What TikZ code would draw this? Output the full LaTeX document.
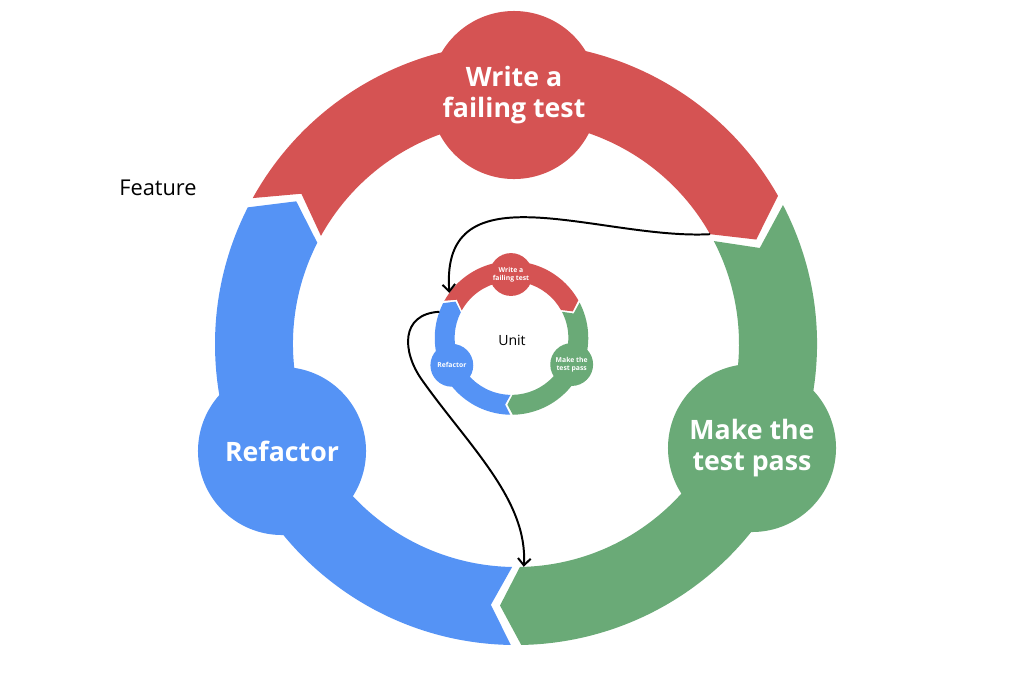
\documentclass[tikz,border=0pt]{standalone}
\usepackage{fontspec}
\setmainfont{Open Sans}
\usetikzlibrary{arrows.meta}
\definecolor{tddred}{RGB}{213,83,83}
\definecolor{tddgreen}{RGB}{106,170,119}
\definecolor{tddblue}{RGB}{85,147,245}
\tikzset{
	stage/.style = {circle, minimum size = 4.2cm, inner sep = 0pt, text = white, align = center,
		font = \fontsize{19}{21.5}\selectfont\bfseries},
	nested/.style = {line width = 1.4pt, -{Straight Barb[length = 5pt, width = 9pt]}},
	pics/tddcycle/.style = {code = {
		\fill[tddred] (151:301) arc[start angle = 151, end angle = 29.5, radius = 301] -- (23.5:262) -- (29.5:223) arc[start angle = 29.5, end angle = 151, radius = 223] -- (145:262) -- cycle;
		\fill[tddgreen] (27.5:301) arc[start angle = 27.5, end angle = -89, radius = 301] -- (-93.5:262) -- (-89:223) arc[start angle = -89, end angle = 27.5, radius = 223] -- (21.5:262) -- cycle;
		\fill[tddblue] (-91:301) arc[start angle = -91, end angle = -207, radius = 301] -- (-213:262) -- (-207:223) arc[start angle = -207, end angle = -91, radius = 223] -- (-95.5:262) -- cycle;
		%%%%%%%%%
		\node[stage, fill = tddred] (-write) at (-2, 249) {Write a\\failing test};
		\node[stage, fill = tddgreen] (-pass) at (236, -104) {Make the\\test pass};
		\node[stage, fill = tddblue] (-refactor) at (-234, -107) {Refactor};
		%%%%%%%%%
		\coordinate (-redend) at (29.5:223);
		\coordinate (-redstart) at (144:301);
		\coordinate (-greenend) at (-88:223);
		\coordinate (-blueend) at (160:301);
	}}
}
\begin{document}
\begin{tikzpicture}[x = 0.025cm, y = 0.025cm]
	\useasboundingbox (0, 0) rectangle (1024, -680);
	\pic (feat) at (516, -344) {tddcycle};
	\pic[scale = 0.255, transform shape] (unit) at (511.5, -338) {tddcycle};
	\node[font = \fontsize{15.5}{18}\selectfont] (feature) at (158, -188) {Feature};
	\node[font = \fontsize{10}{12}\selectfont] (unitlabel) at (512, -340) {Unit};
	%%%%%%%%%
	\draw[nested] (feat-redend) .. controls (600, -240) and (440, -165) .. (unit-redstart);
	\draw[nested] (unit-blueend) .. controls (400, -314) and (402, -352) .. (422, -380)
		.. controls (468, -445) and (528, -500) .. (feat-greenend);
\end{tikzpicture}
\end{document}
